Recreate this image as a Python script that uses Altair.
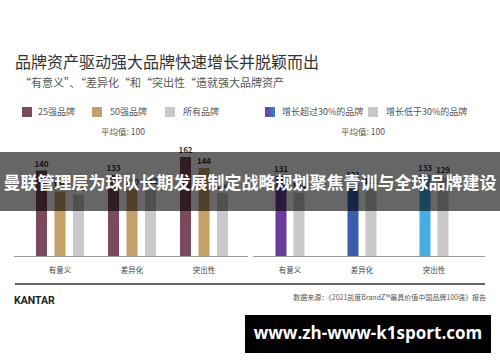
import altair as alt
import pandas as pd

# ---------------- data ----------------
groups = ["有意义", "差异化", "突出性"]

left_series = ["25强品牌", "50强品牌", "所有品牌"]
left_top25 = [140, 133, 162]
left_top50 = [106, 110, 144]
left_all = [101, 112, 104]
left_colors = ["#7b4a5d", "#c4a06a", "#c9c9c9"]

right_series = ["增长超过30%的品牌", "增长低于30%的品牌"]
right_high = [131, 121, 133]
right_low = [104, 112, 129]
right_high_colors = ["#6a3c9c", "#3a5cae", "#45ade2"]
right_low_color = "#c9c9c9"

title_text = "品牌资产驱动强大品牌快速增长并脱颖而出"
subtitle_text = "“有意义”、“差异化“和“突出性“造就强大品牌资产"
avg_text = "平均值: 100"
source_text = "数据来源：《2021凯度BrandZ™最具价值中国品牌100强》报告"
brand_text = "KANTAR"
banner_text = "曼联管理层为球队长期发展制定战略规划聚焦青训与全球品牌建设"
watermark_text = "www.zh-www-k1sport.com"

FONT = "Noto Sans CJK SC"

# ---------------- tables ----------------
left_rows = []
for gi, g in enumerate(groups):
    for si, (s, vals) in enumerate(zip(left_series, [left_top25, left_top50, left_all])):
        left_rows.append({"group": g, "series": s, "value": vals[gi], "col": left_colors[si]})
left_df = pd.DataFrame(left_rows)

right_rows = []
for gi, g in enumerate(groups):
    right_rows.append({"group": g, "series": right_series[0], "value": right_high[gi], "col": right_high_colors[gi]})
    right_rows.append({"group": g, "series": right_series[1], "value": right_low[gi], "col": right_low_color})
right_df = pd.DataFrame(right_rows)

yscale = alt.Scale(domain=[0, 416])


def xaxis():
    return alt.Axis(orient="bottom", domain=False, ticks=False, grid=False, title=None,
                    labelAngle=0, labelFont=FONT, labelFontSize=7.5, labelColor="#444",
                    labelPadding=9)


def panel(df, xrange, pi, po, series, opi, opo):
    base = alt.Chart(df).encode(
        x=alt.X("group:N", sort=groups,
                scale=alt.Scale(domain=groups, range=xrange, paddingInner=pi, paddingOuter=po),
                axis=xaxis()),
        xOffset=alt.XOffset("series:N",
                            scale=alt.Scale(domain=series, paddingInner=opi, paddingOuter=opo)),
        y=alt.Y("value:Q", scale=yscale, axis=None),
    )
    bars = base.mark_bar().encode(color=alt.Color("col:N", scale=None))
    labels = base.mark_text(dy=-6, font=FONT, fontSize=8, fontWeight="bold",
                            color="#333").encode(text="value:Q")
    return alt.layer(bars, labels)


left_panel = panel(left_df, [24, 240], 0.236, 0.118, left_series, 0.405, 0.19)
right_panel = panel(right_df, [254, 470], 0.444, 0.222, right_series, 0.389, 0.306)

one = pd.DataFrame({"k": [0]})


def txt(s, x, y, size, color="#555", weight="normal", align="left", font=FONT):
    return alt.Chart(pd.DataFrame({"t": [s]})).mark_text(
        align=align, baseline="middle", font=font, fontSize=size,
        fontWeight=weight, color=color
    ).encode(x=alt.value(x), y=alt.value(y), text="t:N")


def box(x1, x2, y1, y2, color, opacity=1.0):
    return alt.Chart(one).mark_rect(color=color, opacity=opacity).encode(
        x=alt.value(x1), x2=alt.value(x2), y=alt.value(y1), y2=alt.value(y2))


def hline(x1, x2, y, color, width):
    return alt.Chart(one).mark_rule(color=color, strokeWidth=width).encode(
        x=alt.value(x1), x2=alt.value(x2), y=alt.value(y))


grad = alt.LinearGradient(gradient="linear", x1=0, x2=1, y1=0, y2=0,
                          stops=[alt.GradientStop(color="#6a3c9c", offset=0),
                                 alt.GradientStop(color="#3a7fd8", offset=1)])
grad_box = alt.Chart(one).mark_rect(color=grad).encode(
    x=alt.value(265), x2=alt.value(275), y=alt.value(107), y2=alt.value(117))

decor = [
    txt(title_text, 15, 63, 16, color="#333"),
    txt(subtitle_text, 20, 84, 11, color="#555"),
    # left legend
    box(22, 32, 107, 117, left_colors[0]),
    txt(left_series[0], 38, 112, 9),
    box(92, 102, 107, 117, left_colors[1]),
    txt(left_series[1], 110, 112, 9),
    box(165, 175, 107, 117, left_colors[2]),
    txt(left_series[2], 183, 112, 9),
    # right legend
    grad_box,
    txt(right_series[0], 282, 112, 9),
    box(368, 378, 107, 117, right_low_color),
    txt(right_series[1], 386, 112, 9),
    txt(avg_text, 123, 132, 8.5, align="center"),
    txt(avg_text, 363, 132, 8.5, align="center"),
    # baselines
    hline(14, 248, 256.5, "#9a9a9a", 1),
    hline(253, 485, 256.5, "#9a9a9a", 1),
    # footer
    hline(15, 485, 284, "#666", 2),
    txt(brand_text, 14, 301, 10.5, color="#222", weight="bold", font="Roboto"),
    txt(source_text, 486, 298, 7, color="#555", align="right"),
]

overlay = [
    box(0, 500, 152, 211, "#000", 0.6),
    txt(banner_text, 250, 184, 17, color="#fff", weight="bold", align="center"),
    box(245, 491, 315, 353, "#000"),
    txt(watermark_text, 368, 334, 17, color="#fff", weight="bold", align="center",
        font="Open Sans"),
]

chart = alt.layer(left_panel, right_panel, *decor, *overlay).resolve_scale(
    x="independent", xOffset="independent"
).properties(
    width=500, height=257,
    autosize=alt.AutoSizeParams(type="none"),
    padding={"left": 0, "top": 0, "right": 0, "bottom": 105},
    background="#ffffff",
).configure_view(stroke=None)

chart.save("out.html", embed_options={"renderer": "svg", "actions": False})
